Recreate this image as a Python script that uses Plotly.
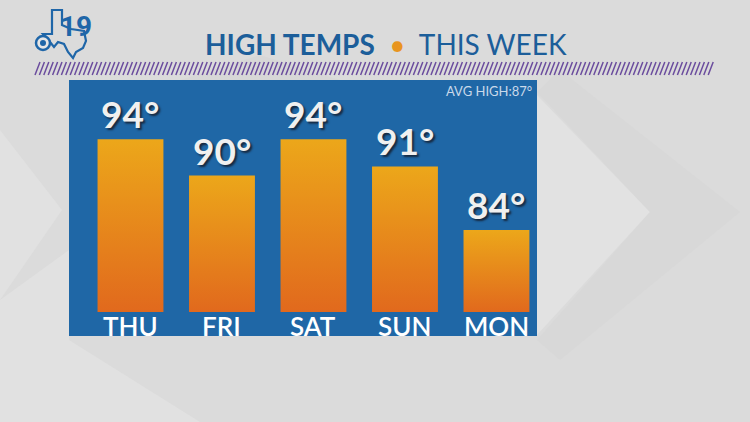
import plotly.graph_objects as go

days = ["THU", "FRI", "SAT", "SUN", "MON"]
highs = [94, 90, 94, 91, 84]
avg_high = 87
base_temp = 75

W, H = 750, 422

def px(x):
    return x / W

def py(y):
    return 1 - y / H

fig = go.Figure()

bar_w = 0.72
for i, (d, v) in enumerate(zip(days, highs)):
    xs = [i - bar_w / 2, i + bar_w / 2, i + bar_w / 2, i - bar_w / 2, i - bar_w / 2]
    ys = [base_temp, base_temp, v, v, base_temp]
    fig.add_trace(go.Scatter(
        x=xs, y=ys, mode="lines", fill="toself",
        line=dict(width=0, color="rgba(0,0,0,0)"),
        fillgradient=dict(type="vertical",
                          colorscale=[[0, "#e1691d"], [1, "#eca71a"]]),
        hoverinfo="skip", showlegend=False,
    ))

# temperature labels
for i, v in enumerate(highs):
    fig.add_annotation(
        x=i, y=v, xref="x", yref="y", text=f"{v}°", showarrow=False,
        yanchor="bottom", xanchor="center", yshift=1,
        font=dict(family="Lato", size=37, color="#f0f0f0", weight="bold",
                  shadow="2px 2px 2px rgba(20,20,30,0.75)"),
    )
# day labels
for i, d in enumerate(days):
    fig.add_annotation(
        x=i, y=py(326), xref="x", yref="paper", text=d, showarrow=False,
        yanchor="middle", xanchor="center",
        font=dict(family="Lato", size=26, color="#ffffff", weight=600),
    )
fig.add_annotation(
    x=px(534), y=py(91), xref="paper", yref="paper",
    text=f"AVG HIGH:{avg_high}°", showarrow=False, xanchor="right",
    yanchor="middle",
    font=dict(family="Lato", size=13, color="#c9d9ea"),
)

# title
fig.add_annotation(
    x=px(386), y=py(44), xref="paper", yref="paper", showarrow=False,
    xanchor="center", yanchor="middle",
    text="<b>HIGH TEMPS</b>  <span style='color:#e8951f'>•</span>  THIS WEEK",
    font=dict(family="Lato", size=28, color="#1c5e9a"),
)

shapes = []
# background chevrons (subtle)
shapes.append(dict(type="path", xref="paper", yref="paper", layer="below",
    path=f"M {px(537)} {py(95)} L {px(650)} {py(212)} L {px(537)} {py(335)} Z",
    fillcolor="#e2e2e2", line=dict(width=0)))
shapes.append(dict(type="path", xref="paper", yref="paper", layer="below",
    path=(f"M {px(560)} {py(70)} L {px(740)} {py(212)} L {px(560)} {py(360)} "
          f"L {px(537)} {py(340)} L {px(650)} {py(212)} L {px(537)} {py(92)} Z"),
    fillcolor="#d8d8d8", line=dict(width=0)))
shapes.append(dict(type="path", xref="paper", yref="paper", layer="below",
    path=f"M {px(180)} {py(80)} L {px(260)} {py(55)} L {px(340)} {py(80)} Z",
    fillcolor="#d7d7d7", line=dict(width=0)))
shapes.append(dict(type="path", xref="paper", yref="paper", layer="below",
    path=(f"M {px(0)} {py(130)} L {px(62)} {py(210)} L {px(0)} {py(300)} Z"),
    fillcolor="#e1e1e1", line=dict(width=0)))
shapes.append(dict(type="path", xref="paper", yref="paper", layer="below",
    path=(f"M {px(0)} {py(300)} L {px(69)} {py(250)} L {px(69)} {py(340)} "
          f"L {px(200)} {py(422)} L {px(0)} {py(422)} Z"),
    fillcolor="#e1e1e1", line=dict(width=0)))

# purple stripe band
p = ""
x = 35.0
while x < 712:
    p += f"M {px(x)} {py(75)} L {px(x + 5)} {py(62)} "
    x += 4.4
shapes.append(dict(type="path", xref="paper", yref="paper", path=p,
                   line=dict(color="#6b4d9e", width=1.5)))

# logo: Texas outline
tx = [(52, 10), (62, 10), (62, 25), (71, 29), (84, 31), (86, 41), (83, 48),
      (76, 52), (73, 58), (68, 52), (64, 44), (58, 42), (54, 47), (50, 42),
      (43, 34), (52, 34)]
path = "M " + " L ".join(f"{px(a)} {py(b)}" for a, b in tx) + " Z"
shapes.append(dict(type="path", xref="paper", yref="paper", path=path,
                   line=dict(color="#1f66a8", width=2.2)))
shapes.append(dict(type="circle", xref="paper", yref="paper",
                   x0=px(36), x1=px(50), y0=py(50), y1=py(36),
                   fillcolor="#e6e6e6", line=dict(color="#1f66a8", width=2.5)))
shapes.append(dict(type="circle", xref="paper", yref="paper",
                   x0=px(40), x1=px(46), y0=py(46), y1=py(40),
                   fillcolor="#1f66a8", line=dict(width=0)))
fig.add_annotation(x=px(76), y=py(27), xref="paper", yref="paper",
                   text="<b>19</b>", showarrow=False,
                   xanchor="center", yanchor="middle",
                   font=dict(family="Roboto", size=28, color="#1f66a8"))

fig.update_layout(
    width=W, height=H, margin=dict(l=0, r=0, t=0, b=0),
    paper_bgcolor="#dbdbdb", plot_bgcolor="#1f67a6",
    shapes=shapes,
    xaxis=dict(domain=[px(69), px(537)], range=[-0.672, 4.443],
               showgrid=False, zeroline=False, showticklabels=False,
               fixedrange=True),
    yaxis=dict(domain=[py(336), py(80)], range=[72.36, 100.5],
               showgrid=False, zeroline=False, showticklabels=False,
               fixedrange=True),
    showlegend=False,
)

fig.write_html("out.html", config={"displayModeBar": False},
               post_script="document.body.style.margin='0';document.body.style.overflow='hidden';")
